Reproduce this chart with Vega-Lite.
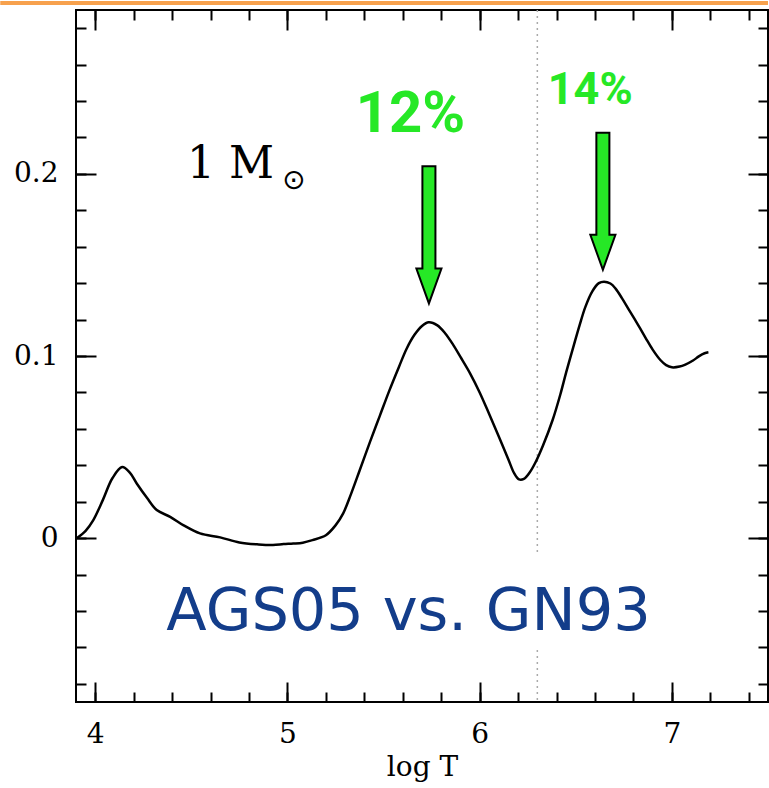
{
  "$schema": "https://vega.github.io/schema/vega-lite/v6.json",
  "autosize": "none",
  "width": 692,
  "height": 692,
  "padding": {"left": 76, "top": 10, "right": 1, "bottom": 86},
  "background": "white",
  "datasets": {
    "curve": [
      {"logT": 3.905, "v": 0}, {"logT": 3.95, "v": 0.004}, {"logT": 3.99, "v": 0.0099}, {"logT": 4.04, "v": 0.021},
      {"logT": 4.09, "v": 0.033}, {"logT": 4.14, "v": 0.039}, {"logT": 4.18, "v": 0.036}, {"logT": 4.216, "v": 0.030},
      {"logT": 4.27, "v": 0.022}, {"logT": 4.32, "v": 0.0154}, {"logT": 4.39, "v": 0.0117}, {"logT": 4.46, "v": 0.007},
      {"logT": 4.545, "v": 0.0026}, {"logT": 4.65, "v": 0.0004}, {"logT": 4.75, "v": -0.0024}, {"logT": 4.85, "v": -0.0035},
      {"logT": 4.925, "v": -0.0038}, {"logT": 4.98, "v": -0.0033}, {"logT": 5.03, "v": -0.003}, {"logT": 5.08, "v": -0.0025},
      {"logT": 5.13, "v": -0.0011}, {"logT": 5.2, "v": 0.0016}, {"logT": 5.25, "v": 0.007}, {"logT": 5.29, "v": 0.0136},
      {"logT": 5.33, "v": 0.024}, {"logT": 5.375, "v": 0.037}, {"logT": 5.43, "v": 0.053}, {"logT": 5.48, "v": 0.067},
      {"logT": 5.53, "v": 0.081}, {"logT": 5.58, "v": 0.094}, {"logT": 5.62, "v": 0.104}, {"logT": 5.66, "v": 0.1115},
      {"logT": 5.70, "v": 0.1165}, {"logT": 5.735, "v": 0.1185}, {"logT": 5.78, "v": 0.1168}, {"logT": 5.82, "v": 0.1125},
      {"logT": 5.86, "v": 0.1065}, {"logT": 5.9, "v": 0.0995}, {"logT": 5.95, "v": 0.0905}, {"logT": 6.0, "v": 0.080},
      {"logT": 6.05, "v": 0.068}, {"logT": 6.10, "v": 0.0557}, {"logT": 6.15, "v": 0.043}, {"logT": 6.18, "v": 0.0355},
      {"logT": 6.205, "v": 0.0322}, {"logT": 6.23, "v": 0.0325}, {"logT": 6.26, "v": 0.036}, {"logT": 6.29, "v": 0.0415},
      {"logT": 6.33, "v": 0.051}, {"logT": 6.38, "v": 0.065}, {"logT": 6.42, "v": 0.079}, {"logT": 6.45, "v": 0.091},
      {"logT": 6.49, "v": 0.106}, {"logT": 6.52, "v": 0.117}, {"logT": 6.55, "v": 0.127}, {"logT": 6.586, "v": 0.1355},
      {"logT": 6.62, "v": 0.1400}, {"logT": 6.647, "v": 0.1408}, {"logT": 6.68, "v": 0.1398}, {"logT": 6.707, "v": 0.137},
      {"logT": 6.74, "v": 0.1318}, {"logT": 6.776, "v": 0.1255}, {"logT": 6.82, "v": 0.1178}, {"logT": 6.863, "v": 0.110},
      {"logT": 6.9, "v": 0.1035}, {"logT": 6.94, "v": 0.0978}, {"logT": 6.97, "v": 0.0950}, {"logT": 7.0, "v": 0.0938},
      {"logT": 7.04, "v": 0.0942}, {"logT": 7.07, "v": 0.0953}, {"logT": 7.11, "v": 0.0975}, {"logT": 7.14, "v": 0.0998},
      {"logT": 7.17, "v": 0.1015}, {"logT": 7.19, "v": 0.102}
    ],
    "vlines": [
      {"x": 6.3, "y1": 0.29, "y2": -0.008},
      {"x": 6.3, "y1": -0.0615, "y2": -0.09}
    ],
    "border": [
      {"x1": 3.506, "x2": 7.5, "y": 0.2938}
    ],
    "arrows": [
      {"x": 5.736, "y": 0.1665},
      {"x": 6.641, "y": 0.185}
    ],
    "pct": [
      {"x": 5.64, "y": 0.223, "label": "12%", "big": true},
      {"x": 6.575, "y": 0.2385, "label": "14%", "big": false}
    ]
  },
  "layer": [
    {
      "data": {"name": "border"},
      "mark": {"type": "rule", "color": "#f7a14d", "strokeWidth": 4, "clip": false},
      "encoding": {
        "x": {"field": "x1", "type": "quantitative", "axis": null},
        "x2": {"field": "x2"},
        "y": {"field": "y", "type": "quantitative", "axis": null}
      }
    },
    {
      "mark": {"type": "rule", "color": "#aaaaaa", "strokeWidth": 1.5, "strokeDash": [2, 4]},
      "encoding": {"y": {"datum": 0, "type": "quantitative", "axis": null}}
    },
    {
      "data": {"name": "vlines"},
      "mark": {"type": "rule", "color": "#aaaaaa", "strokeWidth": 1.5, "strokeDash": [2, 4]},
      "encoding": {
        "x": {"field": "x", "type": "quantitative", "axis": null},
        "y": {"field": "y1", "type": "quantitative", "axis": null},
        "y2": {"field": "y2"}
      }
    },
    {
      "data": {"name": "curve"},
      "mark": {"type": "line", "color": "black", "strokeWidth": 2.5, "interpolate": "catmull-rom"},
      "encoding": {
        "x": {"field": "logT", "type": "quantitative",
              "scale": {"domain": [3.9, 7.5], "nice": false, "zero": false},
              "axis": {"orient": "bottom", "title": "log T", "values": [4, 5, 6, 7], "format": "d",
                       "tickSize": -20, "labelPadding": 38, "titlePadding": 5,
                       "labelFont": "DejaVu Serif", "labelFontSize": 28, "titleFont": "DejaVu Serif", "titleFontSize": 28, "titleFontWeight": "normal"}},
        "y": {"field": "v", "type": "quantitative",
              "scale": {"domain": [-0.09, 0.29], "nice": false, "zero": false},
              "axis": {"orient": "left", "title": null, "values": [0, 0.1, 0.2], "format": ".1~f",
                       "tickSize": -20, "labelPadding": 38,
                       "labelFont": "DejaVu Serif", "labelFontSize": 28}}
      }
    },
    {
      "data": {"name": "curve"},
      "mark": {"type": "line", "strokeOpacity": 0},
      "encoding": {
        "x": {"field": "logT", "type": "quantitative",
              "axis": {"orient": "bottom", "title": null, "labels": false, "tickSize": -10,
                       "values": [4, 4.2, 4.4, 4.6, 4.8, 5, 5.2, 5.4, 5.6, 5.8, 6, 6.2, 6.4, 6.6, 6.8, 7, 7.2, 7.4]}},
        "y": {"field": "v", "type": "quantitative",
              "axis": {"orient": "left", "title": null, "labels": false, "tickSize": -10,
                       "values": [-0.08, -0.06, -0.04, -0.02, 0, 0.02, 0.04, 0.06, 0.08, 0.1, 0.12, 0.14, 0.16, 0.18, 0.2, 0.22, 0.24, 0.26, 0.28]}}
      }
    },
    {
      "data": {"name": "curve"},
      "mark": {"type": "line", "strokeOpacity": 0},
      "encoding": {
        "x": {"field": "logT", "type": "quantitative",
              "axis": {"orient": "top", "title": null, "labels": false, "tickSize": -20, "values": [4, 5, 6, 7]}},
        "y": {"field": "v", "type": "quantitative",
              "axis": {"orient": "right", "title": null, "labels": false, "tickSize": -20, "values": [0, 0.1, 0.2]}}
      }
    },
    {
      "data": {"name": "curve"},
      "mark": {"type": "line", "strokeOpacity": 0},
      "encoding": {
        "x": {"field": "logT", "type": "quantitative",
              "axis": {"orient": "top", "title": null, "labels": false, "tickSize": -10,
                       "values": [4, 4.2, 4.4, 4.6, 4.8, 5, 5.2, 5.4, 5.6, 5.8, 6, 6.2, 6.4, 6.6, 6.8, 7, 7.2, 7.4]}},
        "y": {"field": "v", "type": "quantitative",
              "axis": {"orient": "right", "title": null, "labels": false, "tickSize": -10,
                       "values": [-0.08, -0.06, -0.04, -0.02, 0, 0.02, 0.04, 0.06, 0.08, 0.1, 0.12, 0.14, 0.16, 0.18, 0.2, 0.22, 0.24, 0.26, 0.28]}}
      }
    },
    {
      "data": {"name": "arrows"},
      "mark": {"type": "point", "filled": true, "fill": "#26e826", "fillOpacity": 1, "stroke": "black", "strokeWidth": 2, "strokeOpacity": 1,
               "size": 18800,
               "shape": "M-0.095,-1L0.095,-1L0.095,0.49L0.183,0.49L0,1L-0.183,0.49L-0.095,0.49Z"},
      "encoding": {
        "x": {"field": "x", "type": "quantitative", "axis": null},
        "y": {"field": "y", "type": "quantitative", "axis": null}
      }
    },
    {
      "data": {"name": "pct"},
      "transform": [{"filter": "datum.big"}],
      "mark": {"type": "text", "font": "Roboto", "fontWeight": "bold", "fontSize": 58, "color": "#26e826", "align": "center", "baseline": "alphabetic"},
      "encoding": {
        "x": {"field": "x", "type": "quantitative", "axis": null},
        "y": {"field": "y", "type": "quantitative", "axis": null},
        "text": {"field": "label"}
      }
    },
    {
      "data": {"name": "pct"},
      "transform": [{"filter": "!datum.big"}],
      "mark": {"type": "text", "font": "Roboto", "fontWeight": "bold", "fontSize": 45, "color": "#26e826", "align": "center", "baseline": "alphabetic"},
      "encoding": {
        "x": {"field": "x", "type": "quantitative", "axis": null},
        "y": {"field": "y", "type": "quantitative", "axis": null},
        "text": {"field": "label"}
      }
    },
    {
      "data": {"values": [{"x": 4.477, "y": 0.198, "label": "1  M"}]},
      "mark": {"type": "text", "font": "DejaVu Serif", "fontSize": 44, "color": "black", "align": "left", "baseline": "alphabetic"},
      "encoding": {
        "x": {"field": "x", "type": "quantitative", "axis": null},
        "y": {"field": "y", "type": "quantitative", "axis": null},
        "text": {"field": "label"}
      }
    },
    {
      "data": {"values": [{"x": 5.033, "y": 0.196, "label": "⊙"}]},
      "mark": {"type": "text", "font": "DejaVu Sans", "fontSize": 28, "color": "black", "align": "center", "baseline": "middle"},
      "encoding": {
        "x": {"field": "x", "type": "quantitative", "axis": null},
        "y": {"field": "y", "type": "quantitative", "axis": null},
        "text": {"field": "label"}
      }
    },
    {
      "data": {"values": [{"x": 5.63, "y": -0.0505, "label": "AGS05 vs. GN93"}]},
      "mark": {"type": "text", "font": "DejaVu Sans", "fontSize": 59, "color": "#133d8a", "align": "center", "baseline": "alphabetic"},
      "encoding": {
        "x": {"field": "x", "type": "quantitative", "axis": null},
        "y": {"field": "y", "type": "quantitative", "axis": null},
        "text": {"field": "label"}
      }
    }
  ],
  "resolve": {"axis": {"x": "independent", "y": "independent"}},
  "config": {
    "view": {"stroke": "black", "strokeWidth": 2},
    "axis": {"domain": false, "grid": false, "tickColor": "black", "tickWidth": 2,
             "labelFont": "DejaVu Serif", "labelFontSize": 28, "labelColor": "black", "labelOverlap": false,
             "titleFont": "DejaVu Serif", "titleFontSize": 28, "titleFontWeight": "normal", "titleColor": "black"}
  }
}
